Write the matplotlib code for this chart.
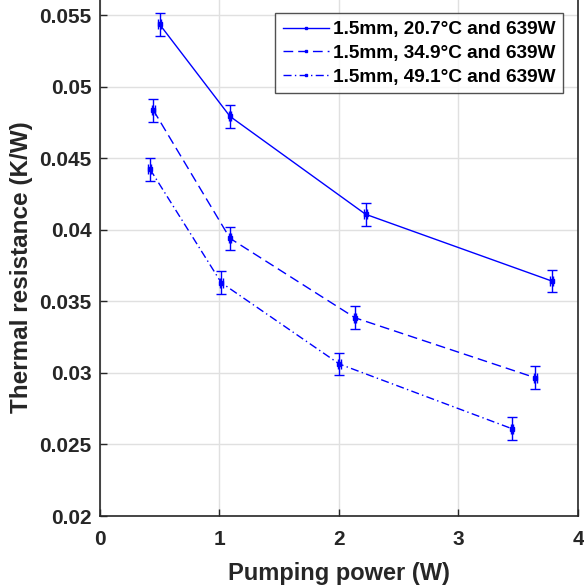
import matplotlib
matplotlib.use("Agg")
import matplotlib.pyplot as plt
import numpy as np

plt.rcParams['font.family'] = ['Liberation Sans', 'DejaVu Sans']
plt.rcParams['font.weight'] = 'bold'

labels = ["1.5mm, 20.7°C and 639W", "1.5mm, 34.9°C and 639W", "1.5mm, 49.1°C and 639W"]
x1 = [0.50, 1.088, 2.223, 3.78]
y1 = [0.05434, 0.04792, 0.04108, 0.03642]
x2 = [0.446, 1.088, 2.134, 3.643]
y2 = [0.04836, 0.0394, 0.03385, 0.02966]
x3 = [0.418, 1.015, 2.003, 3.448]
y3 = [0.04424, 0.0363, 0.03062, 0.0261]
yerr = 0.0008
xerr = 0.012
dash_styles = [None, (7, 3.6), (5.8, 2.4, 1.0, 2.4)]

fig = plt.figure(figsize=(5.84, 5.87), dpi=100)
ax = fig.add_axes([0.1712, 0.1209, 0.8185, 0.8791])
dark = (0.15, 0.15, 0.15)
for xs, ys, ds, lab in zip([x1, x2, x3], [y1, y2, y3], dash_styles, labels):
    ln, = ax.plot(xs, ys, color='blue', lw=1.0, marker='s', markersize=2.5, label=lab)
    if ds is not None:
        ln.set_dashes(ds)
    ax.errorbar(xs, ys, yerr=yerr, xerr=xerr, fmt='none', ecolor='blue', elinewidth=1.0, capsize=3.5, capthick=1.0)

ax.set_xlim(0, 4)
ax.set_ylim(0.02, 0.05605)
ax.set_xticks([0, 1, 2, 3, 4])
ax.set_yticks([0.02, 0.025, 0.03, 0.035, 0.04, 0.045, 0.05, 0.055])
ax.set_yticklabels(['0.02', '0.025', '0.03', '0.035', '0.04', '0.045', '0.05', '0.055'])
ax.grid(True, color=(0.88, 0.88, 0.88), lw=1)
ax.set_axisbelow(True)
ax.tick_params(direction='in', length=5, colors=dark, labelsize=15, width=1)
ax.tick_params(axis='x', pad=10)
ax.tick_params(axis='y', pad=6)
for t in ax.get_xticklabels() + ax.get_yticklabels():
    t.set_fontweight('bold')
for s in ['left', 'bottom', 'right']:
    ax.spines[s].set_color(dark)
    ax.spines[s].set_linewidth(1.2)
ax.spines['top'].set_visible(False)
ax.set_xlabel('Pumping power (W)', fontsize=17, fontweight='bold', color=dark)
ax.set_ylabel('Thermal resistance (K/W)', fontsize=17.5, fontweight='bold', color=dark)
ax.xaxis.set_label_coords(0.5, -0.089)
ax.yaxis.set_label_coords(-0.140, 0.483)

leg = ax.legend(loc='upper right', bbox_to_anchor=(0.968, 0.974), fontsize=13.7, frameon=True,
                fancybox=False, edgecolor=dark, handlelength=2.4, handletextpad=0.2,
                borderpad=0.4, labelspacing=0.33, borderaxespad=0, markerscale=0.6)
leg.get_frame().set_linewidth(1)
for t in leg.get_texts():
    t.set_fontweight('bold')
    t.set_color('black')

fig.savefig('out.png', dpi=100)
